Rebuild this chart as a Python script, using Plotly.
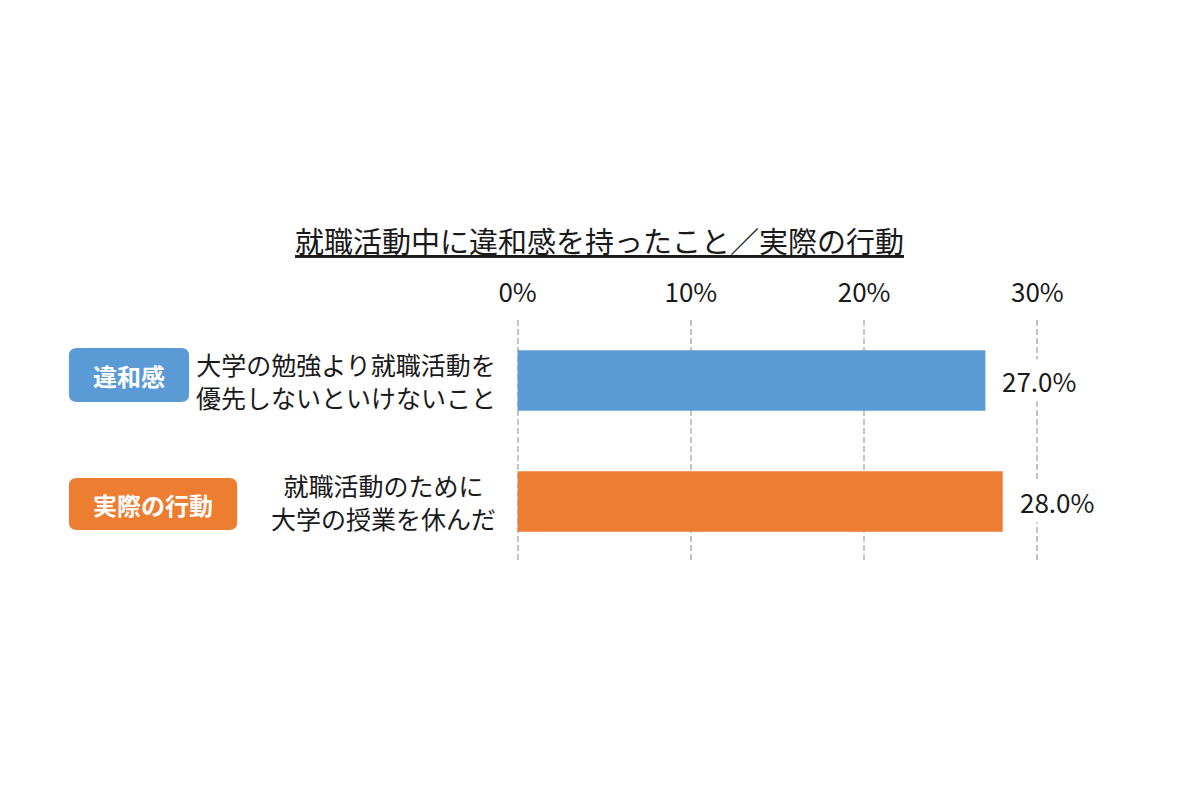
import plotly.graph_objects as go

# data
title = "就職活動中に違和感を持ったこと／実際の行動"
groups = ["違和感", "実際の行動"]
items = ["大学の勉強より就職活動を<br>優先しないといけないこと", "就職活動のために<br>大学の授業を休んだ"]
values = [27.0, 28.0]
colors = ["#5B9BD5", "#ED7D31"]
tick_vals = [0, 10, 20, 30]
tick_text = ["0%", "10%", "20%", "30%"]

# page body has an 8px margin, so the figure is drawn a bit smaller
OFF = 8
W, H = 1200 - OFF, 800 - OFF
PAD = 0.15          # small range padding so the 0% / 30% grid lines are drawn
SCALE = 17.3        # px per percent
L = 518 - OFF - PAD * SCALE
R = 1037 - OFF + PAD * SCALE
T, B = 320 - OFF, 562 - OFF
FONT = "Noto Sans CJK JP"


def px_x(x):
    # reference pixel x -> paper coord
    return (x - OFF - L) / (R - L)


def px_y(y):
    return (B - (y - OFF)) / (B - T)


def rounded_box(x0, y0, x1, y1, r=8):
    pts = [
        f"M {px_x(x0 + r)} {px_y(y0)}",
        f"L {px_x(x1 - r)} {px_y(y0)}",
        f"Q {px_x(x1)} {px_y(y0)} {px_x(x1)} {px_y(y0 + r)}",
        f"L {px_x(x1)} {px_y(y1 - r)}",
        f"Q {px_x(x1)} {px_y(y1)} {px_x(x1 - r)} {px_y(y1)}",
        f"L {px_x(x0 + r)} {px_y(y1)}",
        f"Q {px_x(x0)} {px_y(y1)} {px_x(x0)} {px_y(y1 - r)}",
        f"L {px_x(x0)} {px_y(y0 + r)}",
        f"Q {px_x(x0)} {px_y(y0)} {px_x(x0 + r)} {px_y(y0)}",
    ]
    return " ".join(pts) + " Z"


fig = go.Figure()
fig.add_trace(go.Bar(
    x=values, y=items, orientation="h",
    marker=dict(color=colors, line=dict(width=0)),
    width=0.5, hoverinfo="skip",
))

annotations = []
# value labels next to bars (white box hides grid line behind)
for it, v in zip(items, values):
    annotations.append(dict(
        x=v, y=it, xref="x", yref="y", text=f"{v:.1f}%",
        showarrow=False, xanchor="left", xshift=14,
        bgcolor="white", borderpad=2,
        font=dict(family=FONT, size=26, color="#1a1a1a"),
    ))
# category labels
for it in items:
    annotations.append(dict(
        x=px_x(498), y=it, xref="paper", yref="y", text=it,
        showarrow=False, xanchor="right", align="center",
        font=dict(family=FONT, size=25, color="#1a1a1a"),
    ))

# badges
badge_boxes = [(70, 348, 190, 402), (70, 478, 238, 530)]
shapes = []
for g, c, (x0, y0, x1, y1) in zip(groups, colors, badge_boxes):
    shapes.append(dict(type="path", xref="paper", yref="paper",
                       path=rounded_box(x0, y0, x1, y1),
                       fillcolor=c, line=dict(width=0), layer="above"))
    annotations.append(dict(
        x=px_x((x0 + x1) / 2), y=px_y((y0 + y1) / 2), xref="paper", yref="paper",
        text=f"<b>{g}</b>", showarrow=False, xanchor="center", yanchor="middle",
        font=dict(family=FONT, size=24, color="white"),
    ))

# title
annotations.append(dict(
    x=px_x(600), y=px_y(240), xref="paper", yref="paper",
    text=f"<u>{title}</u>", showarrow=False, xanchor="center", yanchor="middle",
    font=dict(family=FONT, size=29, color="#1a1a1a"),
))

fig.update_layout(
    width=W, height=H,
    margin=dict(l=L, r=W - R, t=T, b=H - B),
    paper_bgcolor="white", plot_bgcolor="white",
    showlegend=False,
    annotations=annotations,
    shapes=shapes,
    xaxis=dict(
        range=[-PAD, 30 + PAD], side="top",
        tickvals=tick_vals, ticktext=tick_text,
        showgrid=True, gridcolor="#c4c4c4", gridwidth=1.5, griddash="6px,3px",
        zeroline=False, showline=False, ticks="", ticklabelstandoff=12,
        tickfont=dict(family=FONT, size=26, color="#1a1a1a"),
        fixedrange=True,
    ),
    yaxis=dict(
        type="category", categoryarray=items, range=[1.5, -0.5],
        showticklabels=False, showgrid=False, zeroline=False, showline=False,
        fixedrange=True,
    ),
)

fig.write_html("out.html")
